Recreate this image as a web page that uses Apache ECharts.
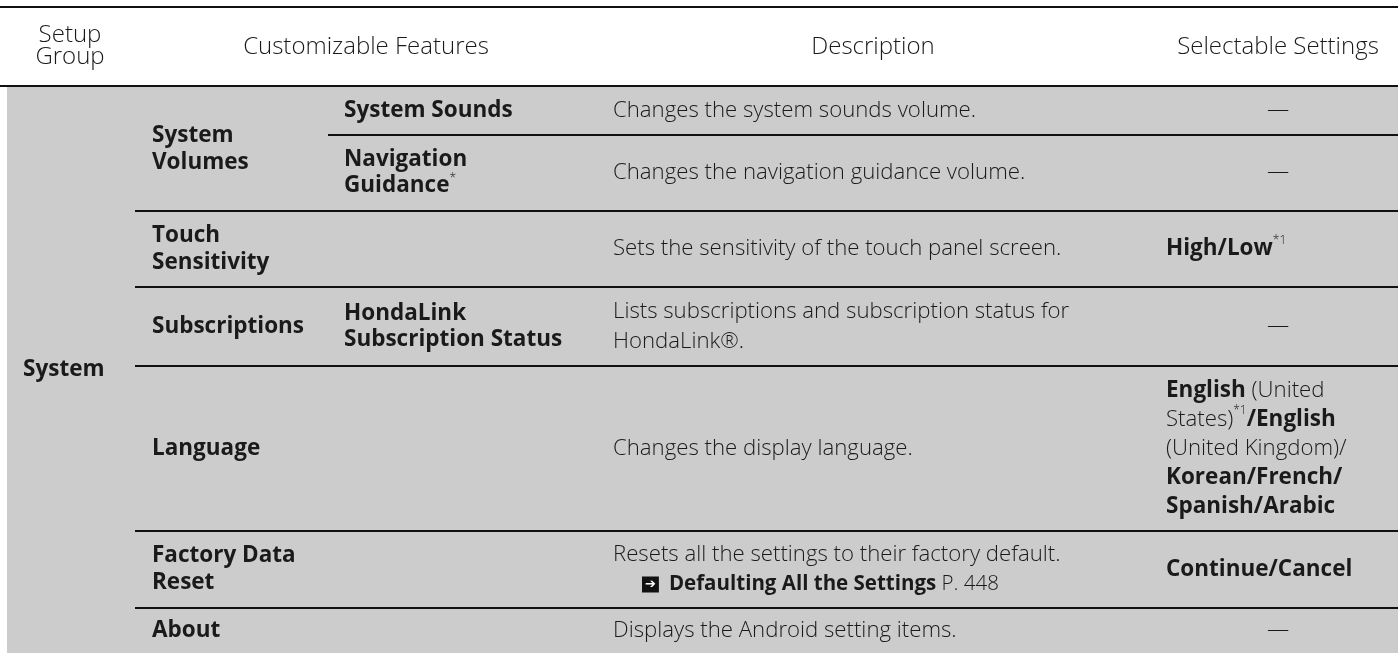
<!DOCTYPE html>
<html>
<head>
<meta charset="utf-8">
<script src="https://cdn.jsdelivr.net/npm/echarts@6/dist/echarts.min.js"></script>
<style>
html,body{margin:0;padding:0;background:#ffffff;}
#chart{width:1398px;height:653px;}
</style>
</head>
<body>
<div id="chart"></div>
<script>
// ---------------- table content (data) ----------------
const headerLabels = ['Setup\nGroup', 'Customizable Features', 'Description', 'Selectable Settings'];
const groupLabel = 'System';
const featureLabels = ['System\nVolumes', 'Touch\nSensitivity', 'Subscriptions', 'Language', 'Factory Data\nReset', 'About'];
const featureRowSpans = [2, 1, 1, 1, 1, 1];
const subFeatureLabels = ['System Sounds', 'Navigation\nGuidance^*^', '', 'HondaLink\nSubscription Status', '', '', ''];
const descriptionTexts = [
  'Changes the system sounds volume.',
  'Changes the navigation guidance volume.',
  'Sets the sensitivity of the touch panel screen.',
  'Lists subscriptions and subscription status for\nHondaLink®.',
  'Changes the display language.',
  'Resets all the settings to their factory default.',
  'Displays the Android setting items.'
];
const crossRefTitles = ['', '', '', '', '', 'Defaulting All the Settings', ''];
const crossRefPages = ['', '', '', '', '', 'P. 448', ''];
const settingTexts = [
  '—',
  '—',
  '**High/Low**^*1^',
  '—',
  '**English** (United\nStates)^*1^**/English**\n(United Kingdom)/\n**Korean/French/**\n**Spanish/Arabic**',
  '**Continue/Cancel**',
  '—'
];

// ---------------- layout (positions in page units) ----------------
const W = 1398, H = 653;
const LAYOUT = {
  topRuleY: 7,
  headRuleY: 86,
  bodyTop: 87,
  bodyLeft: 7,
  headerY: [46, 47.5, 47.5, 47.5],
  headerX: [70, 366, 873, 1278],
  rowEdges: [87, 135, 211, 287, 366, 531, 608, 653],
  groupX: 23,
  featureX: 152,
  subFeatureX: 344,
  subRuleX: 328,
  rowRuleX: 135,
  descX: 613,
  settingX: 1166,
  dashX: 1278
};
const INK = '#1a1a1a';
const GRAY = '#cccccc';
const FONT = "'Open Sans', 'Noto Sans', 'DejaVu Sans', sans-serif";
const SIZE_HEAD = 24, SIZE_BODY = 22.2, SIZE_BOLD = 22.5;
const W_REG = 350;

// ---------------- helpers ----------------
function toRich(s) {
  return s.replace(/\*\*(.+?)\*\*/g, '{b|$1}').replace(/\^(.+?)\^/g, '{sup|$1}');
}
const rich = {
  b: {fontWeight: 'bold', fontSize: SIZE_BOLD, fontFamily: FONT, fill: INK},
  sup: {fontSize: 12, fontFamily: FONT, fill: INK, fontWeight: W_REG, verticalAlign: 'top', lineHeight: 14},
  ind: {width: 29},
  ic: {fill: '#ffffff', backgroundColor: '#111111', fontSize: 13, fontFamily: "'DejaVu Sans', sans-serif",
       fontWeight: 'bold', padding: [2, 3, 1, 3], lineHeight: 13},
  ref: {fontWeight: 'bold', fontSize: 20.5, fontFamily: FONT, fill: INK, padding: [0, 0, 0, 10]},
  refp: {fontWeight: W_REG, fontSize: 20.5, fontFamily: FONT, fill: INK}
};

// ---------------- build cells ----------------
const cells = [];
const mid = (a, b) => (a + b) / 2;
const E = LAYOUT.rowEdges;

headerLabels.forEach((t, i) => cells.push({x: LAYOUT.headerX[i], y: LAYOUT.headerY[i], text: t, align: 'center', size: SIZE_HEAD, bold: false, lh: 22.5}));
cells.push({x: LAYOUT.groupX, y: mid(E[0], E[E.length - 1]), text: groupLabel, align: 'left', size: SIZE_BOLD, bold: true, lh: 26});

let leaf = 0;
featureLabels.forEach((t, i) => {
  const span = featureRowSpans[i];
  cells.push({x: LAYOUT.featureX, y: mid(E[leaf], E[leaf + span]), text: toRich(t), align: 'left', size: SIZE_BOLD, bold: true, lh: 27});
  leaf += span;
});
subFeatureLabels.forEach((t, i) => {
  if (!t) return;
  cells.push({x: LAYOUT.subFeatureX, y: mid(E[i], E[i + 1]), text: toRich(t), align: 'left', size: SIZE_BOLD, bold: true, lh: 26});
});
descriptionTexts.forEach((t, i) => {
  let s = toRich(t);
  if (crossRefTitles[i]) {
    s += '\n{ind| }{ic|➔}{ref|' + crossRefTitles[i] + '}{refp| ' + crossRefPages[i] + '}';
  }
  cells.push({x: LAYOUT.descX, y: mid(E[i], E[i + 1]), text: s, align: 'left', size: SIZE_BODY, bold: false, lh: 30});
});
settingTexts.forEach((t, i) => {
  const dash = t === '—';
  cells.push({x: dash ? LAYOUT.dashX : LAYOUT.settingX, y: mid(E[i], E[i + 1]), text: toRich(t),
              align: dash ? 'center' : 'left', size: SIZE_BODY, bold: false, lh: 29});
});

// rules: [x0, y, x1, width]
const rules = [
  [0, LAYOUT.topRuleY, W, 2],
  [0, LAYOUT.headRuleY, W, 2],
  [LAYOUT.subRuleX, E[1], W, 2]
];
for (let i = 2; i < E.length - 1; i++) rules.push([LAYOUT.rowRuleX, E[i], W, 2]);

const backgrounds = [[LAYOUT.bodyLeft, LAYOUT.bodyTop, W, H]];

// ---------------- chart ----------------
const chart = echarts.init(document.getElementById('chart'), null, {renderer: 'canvas'});
chart.setOption({
  animation: false,
  backgroundColor: '#ffffff',
  grid: {left: 0, right: 0, top: 0, bottom: 0},
  xAxis: {type: 'value', min: 0, max: W, show: false},
  yAxis: {type: 'value', min: 0, max: H, inverse: true, show: false},
  series: [
    {
      type: 'custom', coordinateSystem: 'cartesian2d', clip: false, silent: true, z: 1,
      data: backgrounds,
      renderItem: (p, api) => {
        const a = api.coord([api.value(0), api.value(1)]);
        const b = api.coord([api.value(2), api.value(3)]);
        return {type: 'rect', shape: {x: a[0], y: a[1], width: b[0] - a[0], height: b[1] - a[1]}, style: {fill: GRAY}};
      }
    },
    {
      type: 'custom', coordinateSystem: 'cartesian2d', clip: false, silent: true, z: 2,
      data: rules,
      renderItem: (p, api) => {
        const a = api.coord([api.value(0), api.value(1)]);
        const b = api.coord([api.value(2), api.value(1)]);
        return {type: 'line', shape: {x1: a[0], y1: a[1], x2: b[0], y2: b[1]}, style: {stroke: '#111111', lineWidth: api.value(3)}};
      }
    },
    {
      type: 'custom', coordinateSystem: 'cartesian2d', clip: false, silent: true, z: 3,
      data: cells.map(c => [c.x, c.y]),
      renderItem: (p, api) => {
        const c = cells[p.dataIndex];
        const pt = api.coord([api.value(0), api.value(1)]);
        return {
          type: 'text', x: pt[0], y: pt[1],
          style: {
            text: c.text, rich: rich,
            fill: INK, fontFamily: FONT,
            fontSize: c.size,
            fontWeight: c.bold ? 'bold' : W_REG,
            lineHeight: c.lh,
            align: c.align, verticalAlign: 'middle'
          }
        };
      }
    }
  ]
});
</script>
</body>
</html>
